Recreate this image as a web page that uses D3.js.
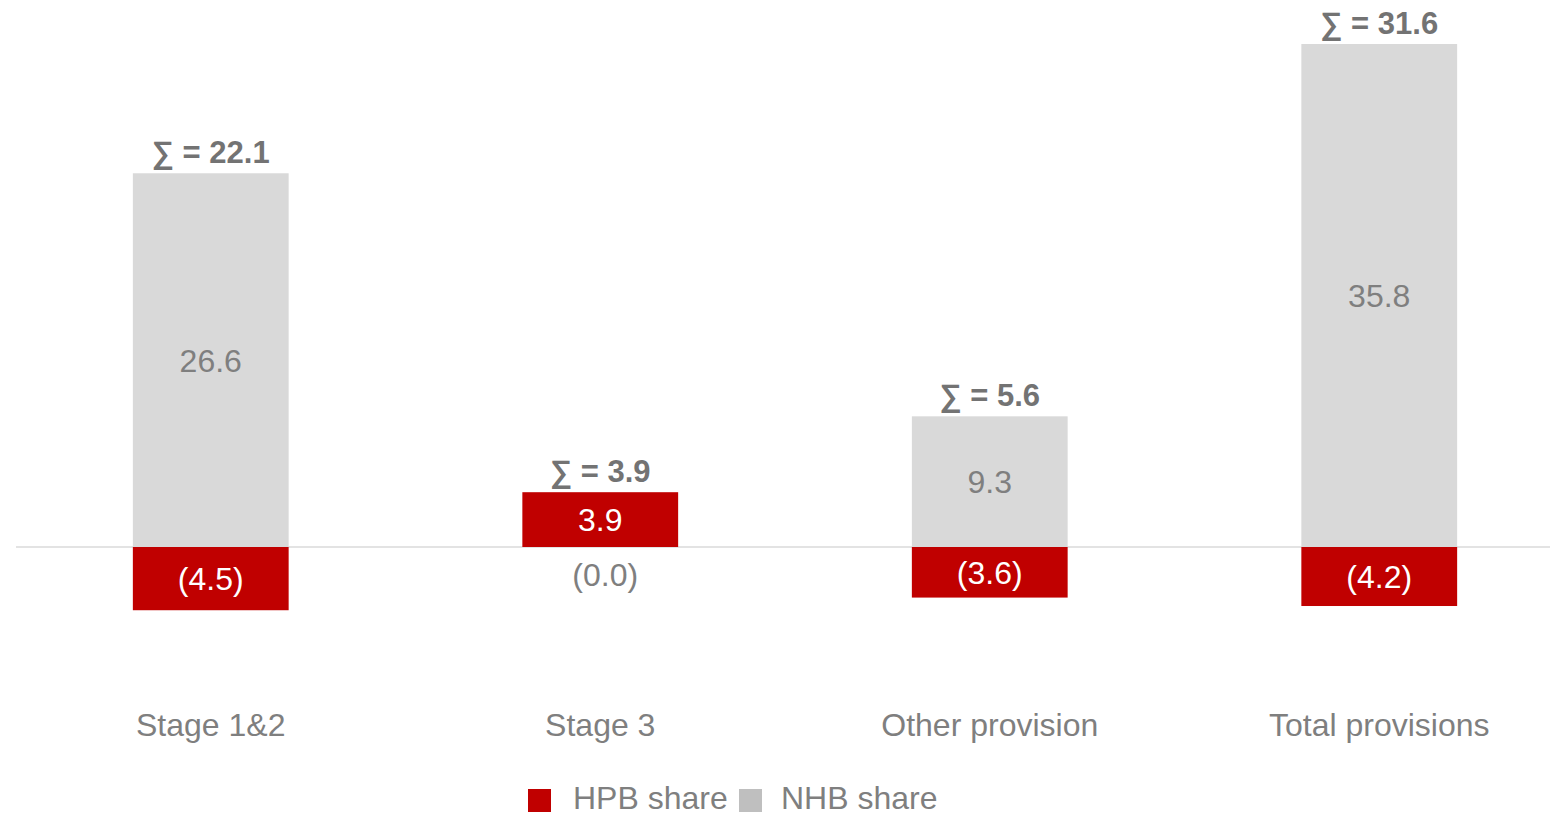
<!DOCTYPE html>
<meta charset="utf-8">
<style>
body { margin: 0; background: #fff; font-family: "Liberation Sans", Arial, sans-serif; }
.val { font-size: 32px; text-anchor: middle; }
.sum { font-size: 31px; font-weight: bold; fill: #737373; text-anchor: middle; }
.cat { font-size: 32px; fill: #7f7f7f; text-anchor: middle; }
.leg { font-size: 32px; fill: #7f7f7f; }
</style>
<body>
<script src="https://cdn.jsdelivr.net/npm/d3@7"></script>
<script>

// data
var categories = ["Stage 1&2", "Stage 3", "Other provision", "Total provisions"];
var hpbShare = [-4.5, 3.9, -3.6, -4.2];
var nhbShare = [26.6, 0.0, 9.3, 35.8];
var totals = [22.1, 3.9, 5.6, 31.6];
var seriesNames = ["HPB share", "NHB share"];

var width = 1550, height = 815;
var baseY = 547;

var rows = categories.map(function(c, i) {
  return {cat: c, hpb: hpbShare[i], nhb: nhbShare[i]};
});

var x = d3.scaleBand().domain(categories).range([16, 1574]).paddingInner(0.6).paddingOuter(0.3);
// 14.05 px per unit
var y = d3.scaleLinear().domain([-10, 40]).range([baseY + 140.5, baseY - 562]);

var color = {hpb: "#c00000", nhb: "#d9d9d9"};
var labelColor = {hpb: "#ffffff", nhb: "#7f7f7f"};

var svg = d3.select("body").append("svg")
  .attr("width", width)
  .attr("height", height);

var stack = d3.stack().keys(["hpb", "nhb"]).offset(d3.stackOffsetDiverging);
var series = stack(rows);

// baseline
svg.append("line")
  .attr("x1", 16).attr("x2", width)
  .attr("y1", y(0)).attr("y2", y(0))
  .attr("stroke", "#e3e3e3").attr("stroke-width", 2);

var g = svg.selectAll("g.series")
  .data(series)
  .enter().append("g")
  .attr("class", "series");

g.selectAll("rect")
  .data(function(s) { return s.map(function(d) { d.key = s.key; return d; }); })
  .enter().append("rect")
  .attr("x", function(d) { return x(d.data.cat); })
  .attr("width", x.bandwidth())
  .attr("y", function(d) { return y(Math.max(d[0], d[1])); })
  .attr("height", function(d) { return Math.abs(y(d[0]) - y(d[1])); })
  .attr("fill", function(d) { return color[d.key]; });

function fmt(v) {
  return v < 0 ? "(" + Math.abs(v).toFixed(1) + ")" : v === 0 ? "(0.0)" : v.toFixed(1);
}

g.selectAll("text")
  .data(function(s) { return s; })
  .enter().append("text")
  .attr("class", "val")
  .attr("x", function(d) { return x(d.data.cat) + x.bandwidth() / 2 + (d.data[d.key] === 0 ? 5 : 0); })
  .attr("y", function(d) {
    var v = d.data[d.key];
    if (v === 0) return y(0) + 27;
    return (y(d[0]) + y(d[1])) / 2;
  })
  .attr("dy", "0.36em")
  .attr("fill", function(d) { return d.data[d.key] === 0 ? "#7f7f7f" : labelColor[d.key]; })
  .text(function(d) { return fmt(d.data[d.key]); });

// sum labels
svg.selectAll("text.sum")
  .data(rows)
  .enter().append("text")
  .attr("class", "sum")
  .attr("x", function(d) { return x(d.cat) + x.bandwidth() / 2; })
  .attr("y", function(d) { return y(Math.max(d.hpb, 0) + Math.max(d.nhb, 0)) - 10; })
  .text(function(d, i) { return "\u2211 = " + totals[i].toFixed(1); });

// category labels
svg.selectAll("text.cat")
  .data(categories)
  .enter().append("text")
  .attr("class", "cat")
  .attr("x", function(d) { return x(d) + x.bandwidth() / 2; })
  .attr("y", 736)
  .text(function(d) { return d; });

// legend
var legend = svg.append("g").attr("transform", "translate(528,789)");
var legX = [0, 211];
var legTextX = [45, 253];
var legColors = ["#c00000", "#bfbfbf"];
seriesNames.forEach(function(name, i) {
  legend.append("rect")
    .attr("x", legX[i]).attr("y", 0)
    .attr("width", 23).attr("height", 23)
    .attr("fill", legColors[i]);
  legend.append("text")
    .attr("class", "leg")
    .attr("x", legTextX[i]).attr("y", 20)
    .text(name);
});

</script>
